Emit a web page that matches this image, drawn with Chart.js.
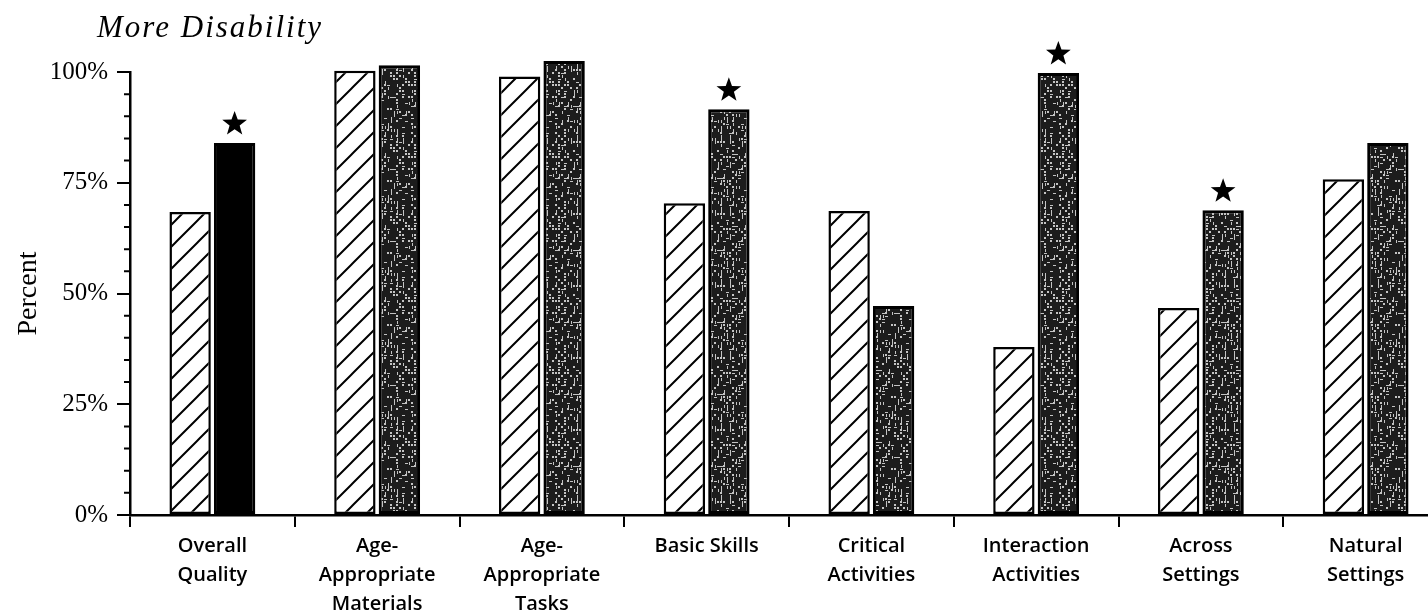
<!DOCTYPE html>
<html>
<head>
<meta charset="utf-8">
<script src="https://cdn.jsdelivr.net/npm/chart.js@4.4.1/dist/chart.umd.min.js"></script>
<style>
    html, body { margin: 0; padding: 0; background: #fff; overflow: hidden; }
    #wrap { width: 1428px; height: 613px; overflow: hidden; }
</style>
</head>
<body>
<div id="wrap"><canvas id="grafico" width="1460" height="613"></canvas></div>
<script>
//Data
const categories = [
    ["Overall", "Quality"],
    ["Age-", "Appropriate", "Materials"],
    ["Age-", "Appropriate", "Tasks"],
    ["Basic Skills"],
    ["Critical", "Activities"],
    ["Interaction", "Activities"],
    ["Across", "Settings"],
    ["Natural", "Settings"]
];
const hatchedValues = [68.4, 100.3, 99, 70.4, 68.6, 37.9, 46.7, 75.8];
const shadedValues = [84, 101.5, 102.5, 91.6, 47.2, 99.8, 68.8, 84];
const starred = [true, false, false, true, false, true, true, false];
const yTicks = [0, 25, 50, 75, 100];

//Patterns
const hatchPattern = () => {
    let tile = document.createElement("canvas");
    tile.width = 22;
    tile.height = 22;
    let c = tile.getContext("2d");
    c.fillStyle = "#fff";
    c.fillRect(0, 0, 22, 22);
    c.strokeStyle = "#000";
    c.lineWidth = 2;
    c.beginPath();
    c.moveTo(-2, 24); c.lineTo(24, -2);
    c.moveTo(-13, 13); c.lineTo(13, -13);
    c.moveTo(9, 35); c.lineTo(35, 9);
    c.stroke();
    return c.createPattern(tile, "repeat");
};

//texture only (not data): hashed speckles on a dark base
const speckPattern = () => {
    let size = 72;
    let tile = document.createElement("canvas");
    tile.width = size;
    tile.height = size;
    let c = tile.getContext("2d");
    c.fillStyle = "#1c1c1c";
    c.fillRect(0, 0, size, size);
    c.fillStyle = "#c4c4c4";
    for (let y = 0; y < size; y += 3) {
        for (let x = 0; x < size; x += 3) {
            let h = Math.imul(x + 17, 374761393) ^ Math.imul(y + 31, 668265263);
            h = Math.imul(h ^ (h >>> 13), 1274126177);
            h = (h ^ (h >>> 16)) >>> 0;
            let r = h % 100;
            if (r < 20) c.fillRect(x, y, 2, 2);
            else if (r < 32) c.fillRect(x + 1, y, 1, 3);
            else if (r < 40) c.fillRect(x, y + 1, 3, 1);
        }
    }
    return c.createPattern(tile, "repeat");
};

const hatch = hatchPattern();
const speck = speckPattern();

//Plugin: title, minor ticks, stars
const extras = {
    id: "extras",
    afterDraw(chart) {
        const ctx = chart.ctx;
        const area = chart.chartArea;
        const y = chart.scales.y;
        ctx.save();

        ctx.fillStyle = "#000";
        ctx.font = "italic 31px 'Liberation Serif'";
        ctx.letterSpacing = "2px";
        ctx.textAlign = "left";
        ctx.textBaseline = "alphabetic";
        ctx.fillText("More Disability", 97, 37);
        ctx.letterSpacing = "0px";

        ctx.strokeStyle = "#000";
        ctx.lineWidth = 2;
        ctx.beginPath();
        for (let v = 0; v <= 100; v += 5) {
            if (v % 25 === 0) continue;
            let py = y.getPixelForValue(v);
            ctx.moveTo(area.left - 6, py);
            ctx.lineTo(area.left, py);
        }
        ctx.stroke();

        const meta = chart.getDatasetMeta(1);
        starred.forEach((s, i) => {
            if (!s) return;
            const bar = meta.data[i];
            const cx = bar.x;
            const cy = bar.y - 19;
            const R = 13, r = 5.3;
            ctx.beginPath();
            for (let k = 0; k < 10; k++) {
                const ang = -Math.PI / 2 + k * Math.PI / 5;
                const rad = k % 2 === 0 ? R : r;
                const px = cx + rad * Math.cos(ang);
                const py = cy + rad * Math.sin(ang);
                if (k === 0) ctx.moveTo(px, py); else ctx.lineTo(px, py);
            }
            ctx.closePath();
            ctx.fill();
        });
        ctx.restore();
    }
};

let grafico = new Chart(document.getElementById("grafico"), {
    type: "bar",
    data: {
        labels: categories,
        datasets: [
            {
                data: hatchedValues,
                backgroundColor: hatch,
                borderColor: "#000",
                borderWidth: 2.5,
                borderSkipped: false,
                clip: false,
                categoryPercentage: 0.54,
                barPercentage: 0.93
            },
            {
                data: shadedValues,
                backgroundColor: (ctx) => ctx.dataIndex === 0 ? "#000" : speck,
                borderColor: "#000",
                borderWidth: 3,
                borderSkipped: false,
                clip: false,
                categoryPercentage: 0.54,
                barPercentage: 0.93
            }
        ]
    },
    options: {
        responsive: false,
        animation: false,
        layout: {
            padding: { left: 8, right: 12, top: 72, bottom: 0 }
        },
        plugins: {
            legend: { display: false },
            title: { display: false },
            tooltip: { enabled: false }
        },
        scales: {
            x: {
                afterFit: (scale) => { scale.height = 98; },
                border: { display: true, color: "#000", width: 2.5 },
                grid: {
                    display: true,
                    offset: true,
                    drawOnChartArea: false,
                    drawTicks: true,
                    tickLength: 12,
                    color: "#000",
                    lineWidth: 2
                },
                ticks: {
                    color: "#000",
                    padding: 5,
                    maxRotation: 0,
                    autoSkip: false,
                    font: { family: "'Open Sans'", size: 20, weight: "600", lineHeight: 1.45 }
                }
            },
            y: {
                min: 0,
                max: 100,
                afterFit: (scale) => { scale.width = 122; },
                afterBuildTicks: (scale) => {
                    scale.ticks = yTicks.map((v) => ({ value: v }));
                },
                border: { display: true, color: "#000", width: 2.5 },
                grid: {
                    display: true,
                    drawOnChartArea: false,
                    drawTicks: true,
                    tickLength: 13,
                    color: "#000",
                    lineWidth: 2
                },
                ticks: {
                    color: "#000",
                    padding: 9,
                    callback: (v) => v + "%",
                    font: { family: "'Liberation Serif'", size: 25 }
                },
                title: {
                    display: true,
                    text: "Percent",
                    color: "#000",
                    padding: 4,
                    font: { family: "'Liberation Serif'", size: 28, lineHeight: 1.2 }
                }
            }
        }
    },
    plugins: [extras]
});
</script>
</body>
</html>
